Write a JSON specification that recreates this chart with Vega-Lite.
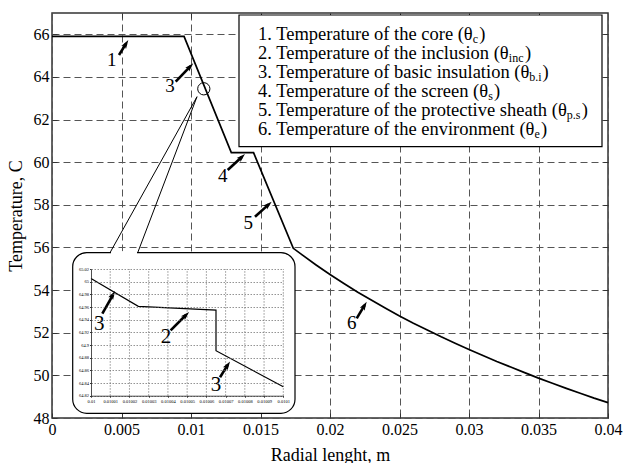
{
  "$schema": "https://vega.github.io/schema/vega-lite/v6.json",
  "width": 556,
  "height": 405,
  "autosize": "none",
  "padding": {"left": 52, "top": 13, "right": 17, "bottom": 45},
  "background": "white",
  "config": {
    "font": "Liberation Serif",
    "view": {"stroke": "#333", "strokeWidth": 1.5},
    "axis": {"labelFont": "Liberation Serif", "titleFont": "Liberation Serif", "labelColor": "black", "titleColor": "black", "titleFontWeight": "normal"}
  },
  "datasets": {
    "curve": [
      {"r": 0, "t": 65.9}, {"r": 0.0095, "t": 65.9}, {"r": 0.0129, "t": 60.45}, {"r": 0.0145, "t": 60.45},
      {"r": 0.01736, "t": 55.96}, {"r": 0.018, "t": 55.65}, {"r": 0.019, "t": 55.18}, {"r": 0.02, "t": 54.73},
      {"r": 0.021, "t": 54.31}, {"r": 0.022, "t": 53.9}, {"r": 0.023, "t": 53.52}, {"r": 0.024, "t": 53.15},
      {"r": 0.025, "t": 52.79}, {"r": 0.026, "t": 52.45}, {"r": 0.027, "t": 52.13}, {"r": 0.028, "t": 51.81},
      {"r": 0.029, "t": 51.51}, {"r": 0.03, "t": 51.21}, {"r": 0.031, "t": 50.93}, {"r": 0.032, "t": 50.65},
      {"r": 0.033, "t": 50.39}, {"r": 0.034, "t": 50.13}, {"r": 0.035, "t": 49.87}, {"r": 0.036, "t": 49.63},
      {"r": 0.037, "t": 49.39}, {"r": 0.038, "t": 49.16}, {"r": 0.039, "t": 48.93}, {"r": 0.04, "t": 48.72}
    ],
    "arrows": [
      {"n": "1", "x": 0.00482, "y": 65.03, "ex": 0.005338, "ey": 65.574, "hx": 0.005489, "hy": 65.733, "dir": 32, "lx": 0.004295, "ly": 64.828},
      {"n": "3", "x": 0.008899, "y": 63.777, "ex": 0.009967, "ey": 64.505, "hx": 0.010165, "hy": 64.64, "dir": 44, "lx": 0.008489, "ly": 63.622},
      {"n": "4", "x": 0.01264, "y": 59.635, "ex": 0.013673, "ey": 60.258, "hx": 0.013885, "hy": 60.385, "dir": 47, "lx": 0.012281, "ly": 59.4},
      {"n": "5", "x": 0.014604, "y": 57.444, "ex": 0.015591, "ey": 58.022, "hx": 0.015806, "hy": 58.148, "dir": 48, "lx": 0.014122, "ly": 57.209},
      {"n": "6", "x": 0.021921, "y": 52.677, "ex": 0.022492, "ey": 53.295, "hx": 0.02264, "hy": 53.456, "dir": 31, "lx": 0.021561, "ly": 52.518}
    ],
    "legend": [
      {"main": "1. Temperature of the core (θ", "sub": "c", "lx": 0.01482, "sx": 0.030273, "cx": 0.030741, "y": 66.029},
      {"main": "2. Temperature of the inclusion (θ", "sub": "inc", "lx": 0.01482, "sx": 0.032863, "cx": 0.034029, "y": 65.138},
      {"main": "3. Temperature of basic insulation (θ", "sub": "b.i", "lx": 0.01482, "sx": 0.034338, "cx": 0.035288, "y": 64.246},
      {"main": "4. Temperature of the screen (θ", "sub": "s", "lx": 0.01482, "sx": 0.031381, "cx": 0.031806, "y": 63.355},
      {"main": "5. Temperature of the protective sheath (θ", "sub": "p.s", "lx": 0.01482, "sx": 0.037036, "cx": 0.038108, "y": 62.464},
      {"main": "6. Temperature of the environment (θ", "sub": "e", "lx": 0.01482, "sx": 0.034712, "cx": 0.03518, "y": 61.572}
    ],
    "boxes": [
      {"name": "inset", "x": 0.001489, "x2": 0.017482, "y": 55.755, "y2": 48.221},
      {"name": "legend", "x": 0.013453, "x2": 0.039568, "y": 66.906, "y2": 60.728}
    ],
    "callout": [
      {"x": 0.010432, "y": 63.073, "x2": 0.004173, "y2": 55.755},
      {"x": 0.010432, "y": 63.073, "x2": 0.006165, "y2": 55.755}
    ],
    "gap": [{"x": 0.004245, "x2": 0.006115, "y": 55.755}],
    "circle": [{"x": 0.010921, "y": 63.444}],
    "insetTicks": [
      {"r": 0.01001}, {"r": 0.01002}, {"r": 0.01003}, {"r": 0.01004}, {"r": 0.01005},
      {"r": 0.01006}, {"r": 0.01007}, {"r": 0.01008}, {"r": 0.01009}, {"r": 0.0101}
    ],
    "inset": [
      {"i": 1, "r": 0.01, "t": 65.005},
      {"i": 2, "r": 0.0100246, "t": 64.961},
      {"i": 3, "r": 0.010065, "t": 64.955},
      {"i": 4, "r": 0.010065, "t": 64.891},
      {"i": 5, "r": 0.0101, "t": 64.834}
    ],
    "insetArrows": [
      {"n": "3", "x": 0.0100059, "y": 64.9496, "ex": 0.0100115, "ey": 64.9796, "hx": 0.0100125, "hy": 64.9851, "dir": 30, "lx": 0.0100043, "ly": 64.9353},
      {"n": "2", "x": 0.0100414, "y": 64.9232, "ex": 0.0100495, "ey": 64.9478, "hx": 0.010051, "hy": 64.9523, "dir": 45, "lx": 0.010039, "ly": 64.9147},
      {"n": "3", "x": 0.0100671, "y": 64.8491, "ex": 0.0100711, "ey": 64.8686, "hx": 0.0100723, "hy": 64.874, "dir": 33, "lx": 0.010065, "ly": 64.838}
    ]
  },
  "resolve": {"scale": {"x": "independent", "y": "independent"}, "axis": {"x": "independent", "y": "independent"}},
  "layer": [
    {
      "layer": [
        {
          "data": {"name": "curve"},
          "mark": {"type": "line", "color": "black", "strokeWidth": 1.7},
          "encoding": {
            "x": {"field": "r", "type": "quantitative", "scale": {"domain": [0, 0.04], "nice": false, "zero": false},
              "axis": {"orient": "bottom", "values": [0, 0.005, 0.01, 0.015, 0.02, 0.025, 0.03, 0.035, 0.04], "format": "~g", "grid": true, "gridDash": [7, 4], "gridColor": "#555", "gridWidth": 1, "gridOpacity": 1, "domain": false, "tickSize": -5, "tickColor": "#333", "labelFontSize": 16, "labelPadding": 8, "labelFlush": false, "labelOverlap": false, "title": "Radial lenght, m", "titleFontSize": 18, "titleY": 42, "titleBaseline": "alphabetic"}},
            "y": {"field": "t", "type": "quantitative", "scale": {"domain": [48, 67], "nice": false, "zero": false},
              "axis": {"orient": "left", "values": [48, 50, 52, 54, 56, 58, 60, 62, 64, 66], "grid": true, "gridDash": [7, 4], "gridColor": "#555", "gridWidth": 1, "gridOpacity": 1, "domain": false, "tickSize": -5, "tickColor": "#333", "labelFontSize": 16, "labelPadding": 8, "labelFlush": false, "labelOverlap": false, "title": "Temperature, C", "titleFontSize": 18, "titleX": -31, "titleY": 202.5, "titleAngle": -90, "titleAlign": "center", "titleBaseline": "alphabetic"}}
          }
        },
        {
          "data": {"name": "boxes"},
          "transform": [{"filter": "datum.name === 'inset'"}],
          "mark": {"type": "rect", "cornerRadius": 14, "fill": "white", "stroke": "black", "strokeWidth": 1.2},
          "encoding": {
            "x": {"field": "x", "type": "quantitative"},
            "x2": {"field": "x2"},
            "y": {"field": "y", "type": "quantitative"},
            "y2": {"field": "y2"}
          }
        },
        {
          "data": {"name": "gap"},
          "mark": {"type": "rule", "color": "white", "strokeWidth": 3},
          "encoding": {
            "x": {"field": "x", "type": "quantitative"},
            "x2": {"field": "x2"},
            "y": {"field": "y", "type": "quantitative"}
          }
        },
        {
          "data": {"name": "callout"},
          "mark": {"type": "rule", "color": "black", "strokeWidth": 1},
          "encoding": {
            "x": {"field": "x", "type": "quantitative"},
            "x2": {"field": "x2"},
            "y": {"field": "y", "type": "quantitative"},
            "y2": {"field": "y2"}
          }
        },
        {
          "data": {"name": "circle"},
          "mark": {"type": "point", "shape": "circle", "filled": false, "size": 150, "stroke": "black", "strokeWidth": 1, "opacity": 1},
          "encoding": {
            "x": {"field": "x", "type": "quantitative"},
            "y": {"field": "y", "type": "quantitative"}
          }
        },
        {
          "data": {"name": "boxes"},
          "transform": [{"filter": "datum.name === 'legend'"}],
          "mark": {"type": "rect", "fill": "white", "stroke": "black", "strokeWidth": 1.2},
          "encoding": {
            "x": {"field": "x", "type": "quantitative"},
            "x2": {"field": "x2"},
            "y": {"field": "y", "type": "quantitative"},
            "y2": {"field": "y2"}
          }
        },
        {
          "data": {"name": "legend"},
          "mark": {"type": "text", "align": "left", "baseline": "middle", "fontSize": 18.5, "color": "black"},
          "encoding": {
            "x": {"field": "lx", "type": "quantitative"},
            "y": {"field": "y", "type": "quantitative"},
            "text": {"field": "main"}
          }
        },
        {
          "data": {"name": "legend"},
          "mark": {"type": "text", "align": "left", "baseline": "middle", "fontSize": 12, "dy": 5, "color": "black"},
          "encoding": {
            "x": {"field": "sx", "type": "quantitative"},
            "y": {"field": "y", "type": "quantitative"},
            "text": {"field": "sub"}
          }
        },
        {
          "data": {"name": "legend"},
          "mark": {"type": "text", "align": "left", "baseline": "middle", "fontSize": 18.5, "color": "black", "text": ")"},
          "encoding": {
            "x": {"field": "cx", "type": "quantitative"},
            "y": {"field": "y", "type": "quantitative"}
          }
        },
        {
          "data": {"name": "arrows"},
          "mark": {"type": "rule", "color": "black", "strokeWidth": 2.6},
          "encoding": {
            "x": {"field": "x", "type": "quantitative"},
            "x2": {"field": "ex"},
            "y": {"field": "y", "type": "quantitative"},
            "y2": {"field": "ey"}
          }
        },
        {
          "data": {"name": "arrows"},
          "mark": {"type": "point", "shape": "M0,0L-0.6,1.9L0,1.5L0.6,1.9Z", "filled": true, "size": 85, "color": "black", "opacity": 1},
          "encoding": {
            "x": {"field": "hx", "type": "quantitative"},
            "y": {"field": "hy", "type": "quantitative"},
            "angle": {"field": "dir", "type": "quantitative", "scale": null}
          }
        },
        {
          "data": {"name": "arrows"},
          "mark": {"type": "text", "align": "center", "baseline": "middle", "fontSize": 19, "dy": 1, "color": "black"},
          "encoding": {
            "x": {"field": "lx", "type": "quantitative"},
            "y": {"field": "ly", "type": "quantitative"},
            "text": {"field": "n"}
          }
        }
      ]
    },
    {
      "data": {"name": "circle"},
      "mark": {"type": "point", "opacity": 0},
      "encoding": {
        "x": {"field": "x", "type": "quantitative", "scale": {"domain": [0, 0.04], "nice": false, "zero": false},
          "axis": {"orient": "top", "values": [0.005, 0.01, 0.015, 0.02, 0.025, 0.03, 0.035], "labels": false, "grid": false, "domain": false, "tickSize": -5, "tickColor": "#333", "title": null}},
        "y": {"field": "y", "type": "quantitative", "scale": {"domain": [48, 67], "nice": false, "zero": false},
          "axis": {"orient": "right", "values": [50, 52, 54, 56, 58, 60, 62, 64, 66], "labels": false, "grid": false, "domain": false, "tickSize": -5, "tickColor": "#333", "title": null}}
      }
    },
    {
      "layer": [
        {
          "data": {"name": "insetTicks"},
          "mark": {"type": "rule", "color": "#666", "strokeWidth": 0.7, "strokeDash": [1.5, 1.5]},
          "encoding": {
            "x": {"field": "r", "type": "quantitative", "scale": {"domain": [0.01, 0.0101], "range": [39, 231.3], "nice": false, "zero": false},
              "axis": {"orient": "bottom", "offset": -22.3, "values": [0.01, 0.01001, 0.01002, 0.01003, 0.01004, 0.01005, 0.01006, 0.01007, 0.01008, 0.01009, 0.0101], "format": "~g", "labelFontSize": 4.5, "labelPadding": 1, "tickSize": 1.5, "tickColor": "#333", "domainColor": "#222", "domainWidth": 0.8, "grid": false, "title": null, "zindex": 1, "labelFlush": false, "labelOverlap": false}},
            "y": {"datum": 64.82, "type": "quantitative", "scale": {"domain": [64.82, 65.02], "range": [382.7, 256], "nice": false, "zero": false},
              "axis": {"orient": "left", "offset": -39, "values": [64.82, 64.84, 64.86, 64.88, 64.9, 64.92, 64.94, 64.96, 64.98, 65, 65.02], "format": "~g", "labelFontSize": 4.5, "labelPadding": 1, "tickSize": 1.5, "tickColor": "#333", "domainColor": "#222", "domainWidth": 0.8, "grid": true, "gridDash": [1.5, 1.5], "gridColor": "#666", "gridWidth": 0.7, "gridOpacity": 1, "title": null, "zindex": 1, "labelFlush": false, "labelOverlap": false}},
            "y2": {"datum": 65.02}
          }
        },
        {
          "data": {"name": "inset"},
          "mark": {"type": "line", "color": "black", "strokeWidth": 1.2},
          "encoding": {
            "x": {"field": "r", "type": "quantitative"},
            "y": {"field": "t", "type": "quantitative"},
            "order": {"field": "i", "type": "quantitative"}
          }
        },
        {
          "data": {"name": "insetArrows"},
          "mark": {"type": "rule", "color": "black", "strokeWidth": 2.6},
          "encoding": {
            "x": {"field": "x", "type": "quantitative"},
            "x2": {"field": "ex"},
            "y": {"field": "y", "type": "quantitative"},
            "y2": {"field": "ey"}
          }
        },
        {
          "data": {"name": "insetArrows"},
          "mark": {"type": "point", "shape": "M0,0L-0.6,1.9L0,1.5L0.6,1.9Z", "filled": true, "size": 85, "color": "black", "opacity": 1},
          "encoding": {
            "x": {"field": "hx", "type": "quantitative"},
            "y": {"field": "hy", "type": "quantitative"},
            "angle": {"field": "dir", "type": "quantitative", "scale": null}
          }
        },
        {
          "data": {"name": "insetArrows"},
          "mark": {"type": "text", "align": "center", "baseline": "middle", "fontSize": 21, "dy": 1, "color": "black"},
          "encoding": {
            "x": {"field": "lx", "type": "quantitative"},
            "y": {"field": "ly", "type": "quantitative"},
            "text": {"field": "n"}
          }
        }
      ]
    }
  ]
}
